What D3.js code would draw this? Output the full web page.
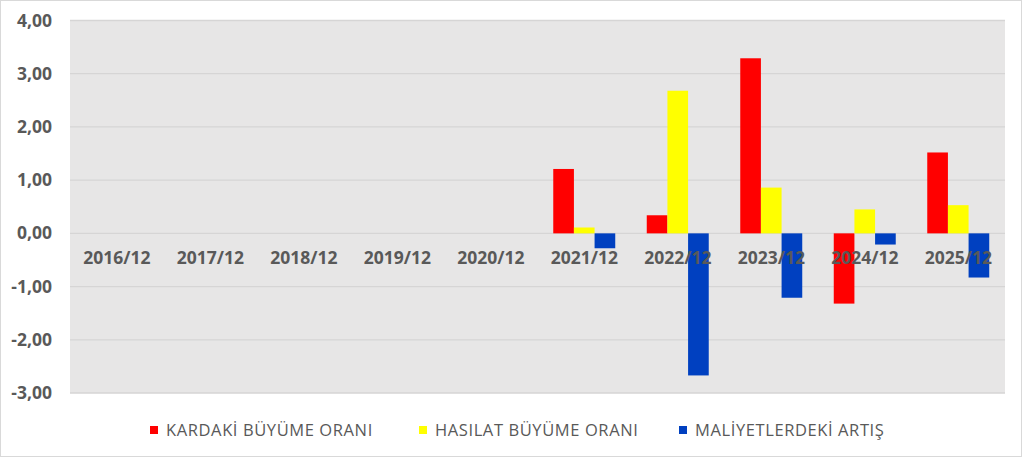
<!DOCTYPE html>
<html>
<head>
<meta charset="utf-8">
<script src="https://cdn.jsdelivr.net/npm/d3@7"></script>
<style>
  body { margin: 0; background: #fff; }
  svg { display: block; }
</style>
</head>
<body>
<svg id="chart" width="1024" height="458"></svg>
<script>
// Yıllar ve seriler
const categories = ["2016/12", "2017/12", "2018/12", "2019/12", "2020/12",
                    "2021/12", "2022/12", "2023/12", "2024/12", "2025/12"];
const kardakiBuyume = [0, 0, 0, 0, 0, 1.21, 0.34, 3.29, -1.32, 1.52];
const hasilatBuyume = [0, 0, 0, 0, 0, 0.11, 2.68, 0.86, 0.45, 0.53];
const maliyetArtis  = [0, 0, 0, 0, 0, -0.28, -2.67, -1.21, -0.21, -0.83];
const seriesNames = ["KARDAKİ BÜYÜME ORANI", "HASILAT BÜYÜME ORANI", "MALİYETLERDEKİ ARTIŞ"];
const seriesColors = ["#ff0000", "#ffff00", "#0040c0"];
const yTicks = [-3, -2, -1, 0, 1, 2, 3, 4];

const series = [kardakiBuyume, hasilatBuyume, maliyetArtis];
const rows = categories.map((c, i) => ({ cat: c, values: series.map(s => s[i]) }));

const W = 1024, H = 458;
const plot = { left: 70, right: 1005, top: 20.5, bottom: 393 };

const svg = d3.select("#chart");
const font = "'Open Sans', 'DejaVu Sans', sans-serif";
const textColor = "#595959";

// cadre du graphique
svg.append("rect")
  .attr("x", 0.5).attr("y", 0.5)
  .attr("width", W - 3).attr("height", H - 2)
  .attr("fill", "#fff")
  .attr("stroke", "#d9d9d9");

// fond de la zone de tracé
svg.append("rect")
  .attr("x", plot.left).attr("y", plot.top)
  .attr("width", plot.right - plot.left).attr("height", plot.bottom - plot.top)
  .attr("fill", "#e7e6e6");

const x0 = d3.scaleBand()
  .domain(categories)
  .range([plot.left, plot.right])
  .paddingInner(0.337)
  .paddingOuter(0.1685);

const x1 = d3.scaleBand()
  .domain(d3.range(series.length))
  .range([0, x0.bandwidth()]);

const y = d3.scaleLinear()
  .domain([-3, 4])
  .range([plot.bottom, plot.top]);

// lignes de grille
svg.append("g")
  .selectAll("line")
  .data(yTicks)
  .join("line")
  .attr("x1", plot.left).attr("x2", plot.right)
  .attr("y1", d => y(d)).attr("y2", d => y(d))
  .attr("stroke", "#d6d5d5")
  .attr("stroke-width", 1.3);

// barres
const groups = svg.append("g")
  .selectAll("g")
  .data(rows)
  .join("g")
  .attr("transform", d => `translate(${x0(d.cat)},0)`);

groups.selectAll("rect")
  .data(d => d.values.map((v, i) => ({ v, i })))
  .join("rect")
  .filter(d => d.v !== 0)
  .attr("x", d => x1(d.i))
  .attr("width", x1.bandwidth())
  .attr("y", d => y(Math.max(0, d.v)))
  .attr("height", d => Math.abs(y(d.v) - y(0)))
  .attr("fill", d => seriesColors[d.i]);

// axe des ordonnées
const fmt = v => (v < 0 ? "-" : "") + d3.format(".2f")(Math.abs(v)).replace(".", ",");
const yAxis = svg.append("g")
  .attr("transform", `translate(${plot.left},0)`)
  .call(d3.axisLeft(y).tickValues(yTicks).tickSize(0).tickPadding(18).tickFormat(fmt));
yAxis.select(".domain").remove();
yAxis.selectAll("text")
  .attr("font-family", font)
  .attr("font-size", "17.5px")
  .attr("font-weight", "bold")
  .attr("fill", textColor);

// axe des abscisses (au niveau de zéro)
const xAxis = svg.append("g")
  .attr("transform", `translate(0,${y(0)})`)
  .call(d3.axisBottom(x0).tickSize(0).tickPadding(18));
xAxis.select(".domain").remove();
xAxis.selectAll("text")
  .attr("font-family", font)
  .attr("font-size", "17.5px")
  .attr("font-weight", "bold")
  .attr("fill", textColor);

// légende
const legendX = [150, 419, 679];
const legend = svg.append("g")
  .selectAll("g")
  .data(seriesNames)
  .join("g")
  .attr("transform", (d, i) => `translate(${legendX[i]},430)`);

legend.append("rect")
  .attr("x", 0).attr("y", -4)
  .attr("width", 8).attr("height", 8)
  .attr("fill", (d, i) => seriesColors[i]);

legend.append("text")
  .attr("x", 16).attr("y", 0)
  .attr("dy", "0.36em")
  .attr("font-family", font)
  .attr("font-size", "16.5px")
  .attr("letter-spacing", "0.6px")
  .attr("fill", textColor)
  .text(d => d);
</script>
</body>
</html>
